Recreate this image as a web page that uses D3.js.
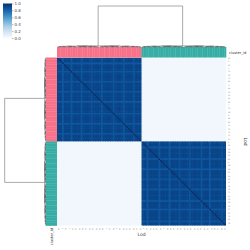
<!DOCTYPE html>
<html>
<head>
<meta charset="utf-8">
<script src="https://cdn.jsdelivr.net/npm/d3@7"></script>
<style>
  body { margin: 0; background: #fff; }
  svg { display: block; font-family: "DejaVu Sans", sans-serif; }
</style>
</head>
<body>
<div class="graph-section"></div>
<script>
// leaf labels in dendrogram order (same order for rows and columns)
var leafLabels = [12, 47, 3, 88, 25, 61, 9, 34, 70, 15, 52, 1, 93, 38, 66, 20, 79, 5, 44, 57,
  30, 84, 11, 96, 41, 68, 22, 75, 7, 50, 33, 89, 18, 63, 2, 99, 46, 27, 81, 14,
  59, 36, 72, 0, 91, 24, 55, 86, 39, 65,
  6, 77, 31, 48, 90, 13, 58, 83, 21, 69, 40, 97, 4, 53, 28, 74, 16, 62, 87, 35,
  10, 95, 43, 67, 19, 80, 56, 26, 92, 37, 71, 8, 49, 85, 23, 60, 98, 32, 76, 45,
  17, 64, 29, 94, 51, 82, 42, 73, 54, 78];

var clusterNames = [0, 1];
var clusterSizes = [50, 50];
var clusterColors = ["#f77189", "#36ada4"];

// within-cluster correlation level of each leaf
var leafLevels = [0.92, 0.92, 0.93, 0.85, 0.92, 0.92, 0.93, 0.92, 0.86, 0.92,
  0.92, 0.93, 0.92, 0.92, 0.86, 0.92, 0.92, 0.92, 0.93, 0.92,
  0.87, 0.92, 0.92, 0.92, 0.92, 0.93, 0.85, 0.92, 0.92, 0.92,
  0.93, 0.92, 0.92, 0.86, 0.92, 0.92, 0.93, 0.92, 0.92, 0.85,
  0.92, 0.92, 0.92, 0.93, 0.92, 0.87, 0.92, 0.92, 0.92, 0.93,
  0.92, 0.93, 0.92, 0.86, 0.92, 0.92, 0.92, 0.93, 0.92, 0.92,
  0.86, 0.92, 0.92, 0.93, 0.92, 0.92, 0.85, 0.92, 0.92, 0.93,
  0.92, 0.92, 0.87, 0.92, 0.93, 0.92, 0.92, 0.92, 0.86, 0.92,
  0.92, 0.93, 0.92, 0.92, 0.92, 0.86, 0.92, 0.93, 0.92, 0.92,
  0.85, 0.92, 0.92, 0.92, 0.93, 0.92, 0.92, 0.87, 0.92, 0.92];
var crossLevel = 0.03;
var diagLevel = 1.0;

// linkage heights (fraction of top merge), from cluster root downwards
var topMergeHeight = 1.0;
var subMergeHeights = [0.028, 0.022, 0.017, 0.012, 0.008, 0.005, 0.002];

var colorTicks = [0, 0.2, 0.4, 0.6, 0.8, 1.0];

var W = 250, H = 250;
var heat = {left: 57, right: 226, top: 57.5, bottom: 225.5};

var svg = d3.select(".graph-section").append("svg")
  .attr("width", W).attr("height", H);

// cluster id of each leaf
var leafCluster = [];
clusterSizes.forEach(function(n, k){
  for (var i = 0; i < n; i++) leafCluster.push(clusterNames[k]);
});
var idx = d3.range(leafLabels.length);

var xScale = d3.scaleBand().domain(idx).range([heat.left, heat.right]);
var yScale = d3.scaleBand().domain(idx).range([heat.top, heat.bottom]);
var color = d3.scaleSequential(d3.interpolateBlues).domain([0, 1]);

var cells = [];
idx.forEach(function(i){
  idx.forEach(function(j){
    var v;
    if (i == j) v = diagLevel;
    else if (leafCluster[i] == leafCluster[j]) v = Math.min(leafLevels[i], leafLevels[j]);
    else v = crossLevel;
    cells.push({r: i, c: j, v: v});
  });
});

var heatG = svg.append("g");
heatG.append("clipPath").attr("id", "hclip").append("rect")
  .attr("x", heat.left).attr("y", heat.top)
  .attr("width", heat.right - heat.left).attr("height", heat.bottom - heat.top);
heatG.append("g").attr("clip-path", "url(#hclip)")
  .selectAll("rect").data(cells).enter().append("rect")
  .attr("x", function(d){ return xScale(d.c); })
  .attr("y", function(d){ return yScale(d.r); })
  .attr("width", xScale.bandwidth() + 0.6)
  .attr("height", yScale.bandwidth() + 0.6)
  .attr("fill", function(d){ return color(d.v); });

// column and row colour bars
var cc = d3.scaleOrdinal().domain(clusterNames).range(clusterColors);
svg.append("g").selectAll("rect").data(idx).enter().append("rect")
  .attr("x", function(d){ return xScale(d); })
  .attr("y", 47).attr("width", xScale.bandwidth() + 0.3).attr("height", 10.5)
  .attr("fill", function(d){ return cc(leafCluster[d]); });
svg.append("g").selectAll("rect").data(idx).enter().append("rect")
  .attr("y", function(d){ return yScale(d); })
  .attr("x", 45.7).attr("height", yScale.bandwidth() + 0.3).attr("width", 11.3)
  .attr("fill", function(d){ return cc(leafCluster[d]); });

// build dendrogram tree
function build(lo, hi, depth){
  if (hi - lo == 1) return {leaf: lo, h: 0};
  var mid = Math.floor((lo + hi) / 2);
  var h = subMergeHeights[Math.min(depth, subMergeHeights.length - 1)];
  return {children: [build(lo, mid, depth + 1), build(mid, hi, depth + 1)], h: h};
}
var start = 0;
var clusterTrees = clusterSizes.map(function(n){
  var t = build(start, start + n, 0);
  start += n;
  return t;
});
var tree = {children: clusterTrees, h: topMergeHeight};

function links(node, out){
  if (!node.children) return node.leaf;
  var a = links(node.children[0], out);
  var b = links(node.children[1], out);
  out.push({a: a, b: b, ha: node.children[0].h, hb: node.children[1].h, h: node.h});
  return (a + b) / 2;
}
var segs = [];
links(tree, segs);

var colH = d3.scaleLinear().domain([0, topMergeHeight]).range([47, 6]);
var rowH = d3.scaleLinear().domain([0, topMergeHeight]).range([45.7, 4.7]);
var leafX = function(p){ return heat.left + (p + 0.5) * xScale.step(); };
var leafY = function(p){ return heat.top + (p + 0.5) * yScale.step(); };

svg.append("g").selectAll("path").data(segs).enter().append("path")
  .attr("fill", "none").attr("stroke", "#555").attr("stroke-width", 0.5)
  .attr("d", function(d){
    return "M" + leafX(d.a) + "," + colH(d.ha) + "V" + colH(d.h) +
      "H" + leafX(d.b) + "V" + colH(d.hb);
  });
svg.append("g").selectAll("path").data(segs).enter().append("path")
  .attr("fill", "none").attr("stroke", "#555").attr("stroke-width", 0.5)
  .attr("d", function(d){
    return "M" + rowH(d.ha) + "," + leafY(d.a) + "H" + rowH(d.h) +
      "V" + leafY(d.b) + "H" + rowH(d.hb);
  });

// tick labels (every other leaf)
var shown = idx.filter(function(i){ return i % 2 == 0; });
svg.append("g").selectAll("text").data(shown).enter().append("text")
  .attr("x", 228).attr("y", function(d){ return leafY(d) + 0.6; })
  .attr("font-size", 1.7).attr("fill", "#777")
  .text(function(d){ return leafLabels[d]; });
svg.append("g").selectAll("text").data(shown).enter().append("text")
  .attr("transform", function(d){ return "translate(" + (leafX(d) + 0.6) + ",228) rotate(90)"; })
  .attr("font-size", 1.7).attr("fill", "#777")
  .text(function(d){ return leafLabels[d]; });

// axis labels
svg.append("text").attr("x", 141.5).attr("y", 236).attr("text-anchor", "middle")
  .attr("font-size", 4.5).attr("fill", "#333").text("Lod");
svg.append("text").attr("transform", "translate(244,141.5) rotate(90)")
  .attr("text-anchor", "middle").attr("font-size", 4.5).attr("fill", "#333").text("Lod");
svg.append("text").attr("x", 229).attr("y", 53.5)
  .attr("font-size", 3.6).attr("fill", "#333").text("cluster_id");
svg.append("text").attr("transform", "translate(52.5,228) rotate(-90)")
  .attr("text-anchor", "end").attr("font-size", 3.6).attr("fill", "#333").text("cluster_id");

// colour bar
var grad = svg.append("defs").append("linearGradient").attr("id", "cb")
  .attr("x1", 0).attr("y1", 1).attr("x2", 0).attr("y2", 0);
d3.range(0, 1.01, 0.1).forEach(function(t){
  grad.append("stop").attr("offset", t).attr("stop-color", color(t));
});
var cbScale = d3.scaleLinear().domain([0, 1]).range([38, 3.5]);
svg.append("rect").attr("x", 3).attr("y", cbScale(1)).attr("width", 9)
  .attr("height", cbScale(0) - cbScale(1)).attr("fill", "url(#cb)");
var cbAxis = d3.axisRight(cbScale).tickValues(colorTicks)
  .tickFormat(d3.format(".1f")).tickSize(1.5).tickPadding(1);
var cbG = svg.append("g").attr("transform", "translate(12,0)").call(cbAxis);
cbG.select(".domain").remove();
cbG.selectAll("line").attr("stroke", "#555").attr("stroke-width", 0.4);
cbG.selectAll("text").attr("font-size", 4).attr("fill", "#444")
  .attr("font-family", "DejaVu Sans, sans-serif");
</script>
</body>
</html>
